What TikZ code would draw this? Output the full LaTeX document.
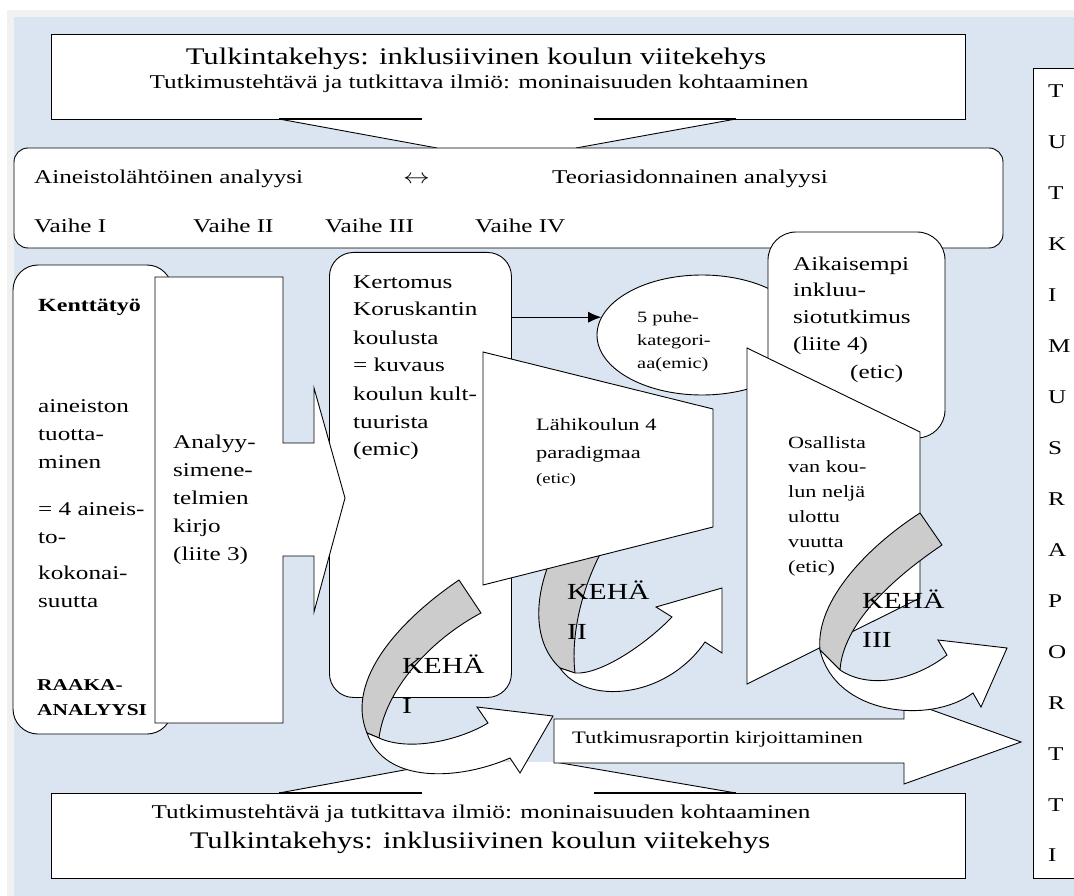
\documentclass[tikz,border=0pt]{standalone}
\usepackage{fontspec}
\setmainfont{Liberation Serif}
\usepackage{graphicx}
\usetikzlibrary{shapes.geometric,arrows.meta}

\definecolor{pageblue}{RGB}{219,229,241}
\definecolor{pagerim}{RGB}{240,242,242}
\definecolor{foldgrey}{RGB}{204,204,204}

% lettering is set somewhat wider than the font's natural width
\newcommand\wide[1]{\scalebox{1.29}[1]{#1}}
\newcommand\stack[1]{\wide{\begin{tabular}[t]{@{}l@{}}#1\end{tabular}}}
\newcommand\fs[2]{\fontsize{#1}{#2}\selectfont}

\begin{document}
\begin{tikzpicture}[x=1pt,y=-1pt,
  outline/.style={draw=black,line width=0.9pt,fill=white},
  band/.style={draw=black,line width=0.9pt,fill=foldgrey,line join=round},
  edge/.style={draw=black,line width=0.9pt},
  heavy/.style={draw=black,line width=1.8pt},
  txt/.style={inner sep=0pt,anchor=base west},
  ctxt/.style={inner sep=0pt,anchor=base},
  mainfont/.style={font=\fs{19.5}{28}}]

\useasboundingbox (0,0) rectangle (1074,896);
\clip (0,0) rectangle (1074,896);

% page background
\fill[white] (0,0) rectangle (1074,896);
\fill[pagerim] (7,10) rectangle (1074,896);
\fill[pageblue] (14,17) rectangle (1074,896);

% upper frame box with its callout wedge
\fill[white] (51,34) rectangle (965,119);
\fill[white] (279,119) -- (437,148.5) -- (576,148.5) -- (736,119) -- cycle;
\draw[edge] (279,119) -- (51,119) -- (51,34) -- (965,34) -- (965,119) -- (736,119);
\draw[edge] (279,119) -- (437,148) (736,119) -- (576,148);
\draw[heavy] (279,119) -- (422,119) (594,119) -- (736,119);

% lower frame box with its callout wedge
\fill[white] (51,793) rectangle (965,878);
\fill[white] (279,793) -- (448,762) -- (555,762) -- (736,793) -- cycle;
\draw[edge] (279,793) -- (51,793) -- (51,878) -- (965,878) -- (965,793) -- (736,793);
\draw[edge] (279,793) -- (448,762) (736,793) -- (555,762);
\draw[heavy] (279,793) -- (422,793) (594,793) -- (736,793);

% analysis band
\draw[outline,rounded corners=14pt] (14,148) rectangle (1003,248);

% vertical report column
\draw[outline] (1033,68) rectangle (1090,878);

% fieldwork box
\draw[outline,rounded corners=25pt] (13,265) rectangle (172,734);

% narrative box
\node (kert) [outline,rounded corners=24pt,anchor=north west,
  minimum width=182pt,minimum height=445pt,inner sep=0pt] at (329,252) {};

% methods block arrow
\draw[outline,line join=miter] (155,277) -- (283,277) -- (283,443) -- (314,443) -- (314,388)
  -- (345,498) -- (314,612) -- (314,556) -- (283,556) -- (283,723) -- (155,723) -- cycle;

% discourse categories
\node (ell) [outline,ellipse,minimum width=210pt,minimum height=120pt,inner sep=0pt] at (702,335) {};
\draw[line width=0.9pt,-{Latex[length=13pt,width=11pt]}] (kert.east |- ell.170) -- (ell.170);

% earlier research box
\draw[outline,rounded corners=28pt] (768,232) rectangle (945,438);

% back of the second loop
\path[band] (555,550) .. controls (535,590) and (530,640) .. (560,668) -- (575,673)
  .. controls (570,630) and (585,580) .. (605,545) -- cycle;

% funnels
\draw[outline,line join=miter] (483,352) -- (713,409) -- (713,527) -- (483,585) -- cycle;
\draw[outline,line join=miter] (747,348) -- (920,432) -- (920,598) -- (747,684) -- cycle;

% report writing arrow
\draw[outline,line join=miter] (554,719) -- (904,719) -- (904,700) -- (1021,742) -- (904,784)
  -- (904,763) -- (554,763) -- cycle;

% loop I
\path[band] (459,580) .. controls (400,620) and (345,680) .. (367,733) -- (379,738)
  .. controls (385,690) and (430,640) .. (481,613) -- cycle;
\path[outline,line join=miter] (367,733) .. controls (385,785) and (460,780) .. (510,758)
  -- (520,773) -- (553,716) -- (477,707) -- (488,723)
  .. controls (460,740) and (410,752) .. (379,738) -- cycle;

% loop II, front
\path[outline,line join=miter] (560,668) .. controls (585,705) and (665,700) .. (705,642)
  -- (722,653) -- (722,588) -- (656,607) -- (672,617)
  .. controls (645,645) and (600,675) .. (575,673) -- cycle;

% loop III
\path[band] (920,513) .. controls (870,545) and (815,600) .. (820,650) -- (840,670)
  .. controls (843,625) and (890,580) .. (942,545) -- cycle;
\path[outline,line join=miter] (820,650) .. controls (835,715) and (930,725) .. (973,693)
  -- (981,707) -- (1007,648) -- (938,640) -- (947,655)
  .. controls (915,680) and (870,690) .. (840,670) -- cycle;

% ---- texts ----
\node (ttl) [ctxt,font=\fs{23.8}{28}] at (476,65) {\wide{Tulkintakehys: inklusiivinen koulun viitekehys}};
\node (tsk) [ctxt,font=\fs{19.5}{28}] at (479,89) {\wide{Tutkimustehtävä ja tutkittava ilmiö: moninaisuuden kohtaaminen}};
\node (btsk) [ctxt,font=\fs{19.5}{28}] at (481,818) {\wide{Tutkimustehtävä ja tutkittava ilmiö: moninaisuuden kohtaaminen}};
\node (bttl) [ctxt,font=\fs{23.8}{28}] at (480,848) {\wide{Tulkintakehys: inklusiivinen koulun viitekehys}};

\node (aine) [txt,mainfont] at (34,184) {\wide{Aineistolähtöinen analyysi}};
\node (lr) [txt,mainfont] at (403,184) {\wide{$\leftrightarrow$}};
\node (teor) [txt,mainfont] at (552,184) {\wide{Teoriasidonnainen analyysi}};
\node (v1) [txt,mainfont] at (34,233) {\wide{Vaihe I}};
\node (v2) [txt,mainfont] at (193,233) {\wide{Vaihe II}};
\node (v3) [txt,mainfont] at (325,233) {\wide{Vaihe III}};
\node (v4) [txt,mainfont] at (475,233) {\wide{Vaihe IV}};

\node (kent) [txt,font=\bfseries\fs{18.6}{28}] at (38,311) {\wide{Kenttätyö}};
\node (tuot) [txt,mainfont] at (38,412) {\stack{aineiston\\tuotta-\\minen}};
\node (aine4) [txt,mainfont] at (38,515) {\stack{= 4 aineis-\\to-}};
\node (koko) [txt,mainfont] at (38,579) {\stack{kokonai-\\suutta}};
\node (raaka) [txt,font=\bfseries\fs{16.6}{25}] at (37,690) {\stack{RAAKA-\\ANALYYSI}};

\node (anal) [txt,mainfont] at (173,448) {\stack{Analyy-\\simene-\\telmien\\kirjo\\(liite 3)}};

\node (kertt) [txt,font=\fs{19.5}{28}] at (353,288)
  {\stack{Kertomus\\Koruskantin\\koulusta\\= kuvaus\\koulun kult-\\tuurista\\(emic)}};

\node (puhe) [txt,font=\fs{15.8}{23}] at (637,322) {\stack{5 puhe-\\kategori-\\aa(emic)}};

\node (lahi) [txt,font=\fs{17.4}{28}] at (536,430) {\stack{Lähikoulun 4\\paradigmaa}};
\node (lahie) [txt,font=\fs{14.6}{20}] at (536,483) {\wide{(etic)}};

\node (osal) [txt,font=\fs{17.2}{24.8}] at (788,448)
  {\stack{Osallista\\van kou-\\lun neljä\\ulottu\\vuutta\\(etic)}};

\node (aika) [txt,font=\fs{19.5}{27}] at (793,270)
  {\stack{Aikaisempi\\inkluu-\\siotutkimus\\(liite 4)}};
\node (aikae) [txt,mainfont] at (850,378) {\wide{(etic)}};

\node (kirj) [txt,font=\fs{17.5}{20}] at (572,743) {\wide{Tutkimusraportin kirjoittaminen}};

\node (keha1) [txt,font=\fs{23}{40}] at (402,673) {\stack{KEHÄ\\I}};
\node (keha2) [txt,font=\fs{23}{40}] at (567,599) {\stack{KEHÄ\\II}};
\node (keha3) [txt,font=\fs{23}{39}] at (862,608) {\stack{KEHÄ\\III}};

\node (raportti) [txt,font=\fs{19.5}{50.93}] at (1048,98)
  {\stack{T\\U\\T\\K\\I\\M\\U\\S\\R\\A\\P\\O\\R\\T\\T\\I}};

\end{tikzpicture}
\end{document}
